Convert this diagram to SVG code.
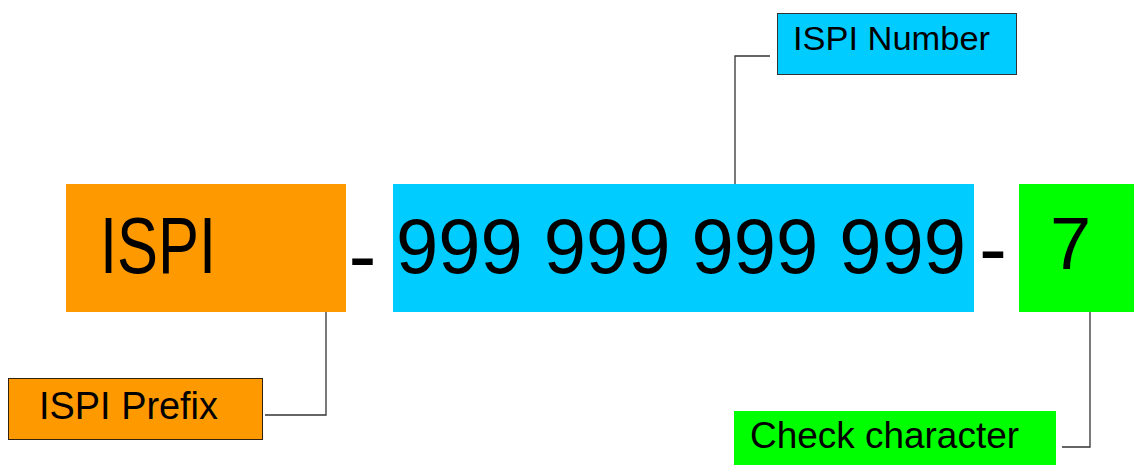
<svg xmlns="http://www.w3.org/2000/svg" width="1134" height="465" viewBox="0 0 1134 465">
<style>
.t{font-family:"Liberation Sans","DejaVu Sans",sans-serif;fill:#000}
.orange{fill:#FF9900}
.blue{fill:#00CCFF}
.green{fill:#00FF00}
.conn{fill:none;stroke:#333;stroke-width:1.3}
</style>
<rect width="1134" height="465" fill="#fff"/>
<g id="prefix">
<rect class="orange" x="66" y="184" width="280" height="128"/>
<text class="t" x="100" y="273" font-size="80" textLength="116" lengthAdjust="spacingAndGlyphs">ISPI</text>
</g>
<g id="dash1"><text class="t" x="362.5" y="284" font-size="84" text-anchor="middle">-</text></g>
<g id="number">
<rect class="blue" x="393" y="184" width="581" height="128"/>
<text class="t" x="396" y="273" font-size="78" textLength="570" lengthAdjust="spacingAndGlyphs">999 999 999 999</text>
</g>
<g id="dash2"><text class="t" x="993" y="277" font-size="84" text-anchor="middle">-</text></g>
<g id="check">
<rect class="green" x="1019" y="184" width="115" height="128"/>
<text class="t" x="1050" y="269" font-size="74">7</text>
</g>
<g id="label-number">
<rect class="blue" x="777.5" y="13.5" width="239" height="61" stroke="#333" stroke-width="1"/>
<text class="t" x="793" y="50" font-size="34" textLength="197" lengthAdjust="spacingAndGlyphs">ISPI Number</text>
</g>
<g id="label-prefix">
<rect class="orange" x="8.5" y="378.5" width="254" height="61" stroke="#332211" stroke-width="1"/>
<text class="t" x="39" y="419" font-size="39" textLength="179" lengthAdjust="spacingAndGlyphs">ISPI Prefix</text>
</g>
<g id="label-check">
<rect class="green" x="734" y="411" width="322" height="54"/>
<text class="t" x="750" y="448" font-size="36" textLength="269" lengthAdjust="spacingAndGlyphs">Check character</text>
</g>
<g id="connectors">
<polyline class="conn" stroke="#666" points="735,184 735,56 770,56"/>
<polyline class="conn" points="265,415 326,415 326,312"/>
<polyline class="conn" points="1062,447 1090,447 1090,312"/>
</g>
</svg>
